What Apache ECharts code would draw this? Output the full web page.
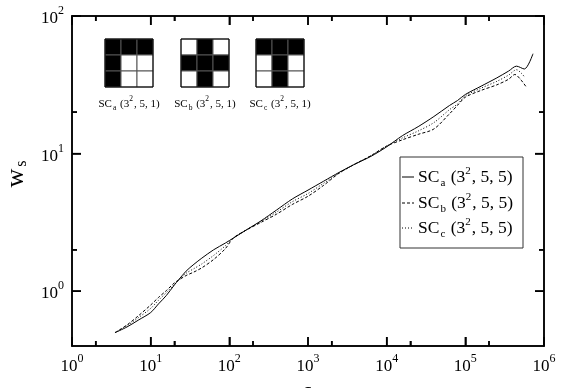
<!DOCTYPE html>
<html>
<head>
<meta charset="utf-8">
<script src="https://cdn.jsdelivr.net/npm/echarts@6/dist/echarts.min.js"></script>
</head>
<body style="margin:0;background:#fff">
<div id="chart" style="width:565px;height:388px"></div>
<script>
// Cluster size s (shared part of the sampling) and the tails of each run
const sizes = [3.52, 5.0, 7.08, 10, 12.6, 15.8, 20, 22.4, 28.2, 35.5, 44.7, 63.1, 89.1,
  112, 158, 251, 398, 631, 1000, 1585, 2512, 3981, 6310, 10000, 15850, 25120, 39810,
  63100, 79430, 100000, 158500, 251200, 354800];
const tailA = [446700, 562300, 724400];
const tailB = [426600, 501200, 602600];
const tailC = [446700, 524800, 575400];

// w_s for the three shapes
const wA = [0.50, 0.55, 0.62, 0.70, 0.81, 0.93, 1.11, 1.20, 1.40, 1.57, 1.74, 2.00, 2.24,
  2.43, 2.75, 3.24, 3.89, 4.68, 5.43, 6.31, 7.33, 8.41, 9.55, 11.2, 13.5, 15.7, 18.6,
  22.4, 24.3, 26.9, 30.9, 35.5, 39.8, 43.2, 41.2, 53.2];
const wB = [0.50, 0.569, 0.668, 0.794, 0.902, 1.01, 1.15, 1.20, 1.30, 1.38, 1.48, 1.70, 2.04,
  2.43, 2.75, 3.16, 3.63, 4.27, 4.90, 5.89, 7.24, 8.41, 9.66, 11.35, 12.6, 13.8, 15.1,
  19.5, 22.4, 25.7, 28.8, 31.6, 34.7, 37.6, 34.7, 30.2];
const wC = [0.50, 0.562, 0.646, 0.750, 0.861, 0.977, 1.12, 1.20, 1.35, 1.46, 1.58, 1.82, 2.14,
  2.43, 2.75, 3.20, 3.76, 4.47, 5.13, 6.10, 7.24, 8.41, 9.66, 11.35, 13.0, 14.6, 16.8,
  20.9, 22.9, 26.3, 29.9, 33.5, 37.2, 40.7, 38.0, 35.5];

const seriesNames = ['a', 'b', 'c'];
const legendArgs = '5, 5)';
const insetArgs = '5, 1)';

// Axis ranges and tick positions
const X_MIN = 1, X_MAX = 1000000;
const Y_MIN = 0.4, Y_MAX = 100;
const xMajor = [1, 10, 100, 1000, 10000, 100000, 1000000];
const xMinor = [2, 20, 200, 2000, 20000, 200000];
const yMajor = [1, 10, 100];
const yMinor = [2, 20];

// 3x3 shapes (1 = filled cell)
const shapes = [
  [[1, 1, 1], [1, 0, 0], [1, 0, 0]],
  [[0, 1, 0], [1, 1, 1], [0, 1, 0]],
  [[1, 1, 1], [0, 1, 0], [0, 1, 0]]
];

const FONT = '"Liberation Serif", "Times New Roman", serif';
const INK = '#000';
const MAJOR_LEN = 9, MINOR_LEN = 5;
const lineTypes = ['solid', [3, 2], [1, 2]];

function zip(xs, ys) { return xs.map((x, i) => [x, ys[i]]); }
function exponent(v) { return Math.round(Math.log10(v)); }

const powRich = {
  b: { fontFamily: FONT, fontSize: 17, color: INK, lineHeight: 22, verticalAlign: 'bottom' },
  sup: { fontFamily: FONT, fontSize: 12, color: INK, verticalAlign: 'top', lineHeight: 12 }
};

function scLabel(sub, tail) {
  return '{n|SC}{s|' + sub + '}{n| (3}{p|2}{n|, ' + tail + '}';
}
function scRich(big, small) {
  return {
    n: { fontFamily: FONT, fontSize: big, color: INK, lineHeight: big + 6, verticalAlign: 'middle' },
    s: { fontFamily: FONT, fontSize: small, color: INK, lineHeight: small, verticalAlign: 'bottom', padding: [0, 1, 0, 1] },
    p: { fontFamily: FONT, fontSize: small, color: INK, lineHeight: small, verticalAlign: 'top', padding: [0, 1, 0, 0] }
  };
}

// Frame axis: line plus inward ticks at the given values, no labels
function frameAxis(position, min, max, values, len) {
  return {
    type: 'log', logBase: 10, min: min, max: max, position: position,
    axisLine: { show: true, onZero: false, lineStyle: { color: INK, width: 1.5 } },
    axisTick: { show: true, inside: true, length: len, customValues: values, lineStyle: { color: INK, width: 1.5 } },
    axisLabel: { show: false },
    splitLine: { show: false }
  };
}

const xMain = frameAxis('bottom', X_MIN, X_MAX, xMajor, MAJOR_LEN);
xMain.axisLabel = {
  show: true, customValues: xMajor, margin: 7, interval: 0, hideOverlap: false,
  formatter: v => '{b|10}{sup|' + exponent(v) + '}', rich: powRich
};
xMain.name = 's';
xMain.nameLocation = 'middle';
xMain.nameGap = 21;
xMain.nameTextStyle = { fontFamily: FONT, fontSize: 24, color: INK };

const yMain = frameAxis('left', Y_MIN, Y_MAX, yMajor, MAJOR_LEN);
yMain.axisLabel = {
  show: true, customValues: yMajor, margin: 8, interval: 0, hideOverlap: false,
  formatter: v => '{b|10}{sup|' + exponent(v) + '}', rich: powRich
};
yMain.name = '{w|w}{s|s}';
yMain.nameLocation = 'middle';
yMain.nameGap = 31;
yMain.nameRotate = 90;
yMain.nameTextStyle = {
  padding: [0, 0, 0, 14],
  rich: {
    w: { fontFamily: FONT, fontSize: 26, color: INK, lineHeight: 28, verticalAlign: 'middle' },
    s: { fontFamily: FONT, fontSize: 16, color: INK, lineHeight: 16, verticalAlign: 'bottom', padding: [0, 0, 0, 2] }
  }
};

const curveSeries = [
  zip(sizes.concat(tailA), wA),
  zip(sizes.concat(tailB), wB),
  zip(sizes.concat(tailC), wC)
].map((data, i) => ({
  name: seriesNames[i], type: 'line', data: data, xAxisIndex: 0, yAxisIndex: 0,
  symbol: 'none', showSymbol: false, smooth: 0.3,
  lineStyle: { color: INK, width: 1, type: lineTypes[i] },
  itemStyle: { color: INK }
}));

const chart = echarts.init(document.getElementById('chart'));
chart.setOption({
  backgroundColor: '#fff',
  animation: false,
  grid: { left: 72, right: 21, top: 16, bottom: 42, containLabel: false, outerBoundsMode: 'none' },
  xAxis: [
    xMain,
    frameAxis('bottom', X_MIN, X_MAX, xMinor, MINOR_LEN),
    frameAxis('top', X_MIN, X_MAX, xMajor, MAJOR_LEN),
    frameAxis('top', X_MIN, X_MAX, xMinor, MINOR_LEN)
  ],
  yAxis: [
    yMain,
    frameAxis('left', Y_MIN, Y_MAX, yMinor, MINOR_LEN),
    frameAxis('right', Y_MIN, Y_MAX, yMajor, MAJOR_LEN),
    frameAxis('right', Y_MIN, Y_MAX, yMinor, MINOR_LEN)
  ],
  series: curveSeries
});

const elements = [];

// Tick marks again as plain lines, placed through the axis scales
const toPx = v => chart.convertToPixel({ gridIndex: 0 }, v);
function pushTick(p, dx, dy) {
  elements.push({
    type: 'line', z: 50,
    shape: { x1: p[0], y1: p[1], x2: p[0] + dx, y2: p[1] + dy },
    style: { stroke: INK, lineWidth: 1.5 }
  });
}
[[xMajor, MAJOR_LEN], [xMinor, MINOR_LEN]].forEach(pair => {
  pair[0].forEach(v => {
    pushTick(toPx([v, Y_MIN]), 0, -pair[1]);
    pushTick(toPx([v, Y_MAX]), 0, pair[1]);
  });
});
[[yMajor, MAJOR_LEN], [yMinor, MINOR_LEN]].forEach(pair => {
  pair[0].forEach(v => {
    pushTick(toPx([X_MIN, v]), pair[1], 0);
    pushTick(toPx([X_MAX, v]), -pair[1], 0);
  });
});

// Legend box
const legend = { left: 400, top: 157, width: 123, height: 91, rows: [177, 203, 228] };
elements.push({
  type: 'rect', silent: true, z: 10,
  shape: { x: legend.left, y: legend.top, width: legend.width, height: legend.height },
  style: { fill: '#fff', stroke: '#333', lineWidth: 1 }
});
legend.rows.forEach((y, i) => {
  elements.push({
    type: 'line', silent: true, z: 11,
    shape: { x1: legend.left + 2, y1: y, x2: legend.left + 14, y2: y },
    style: { stroke: INK, lineWidth: 1, lineDash: lineTypes[i] === 'solid' ? null : lineTypes[i] }
  });
  elements.push({
    type: 'text', silent: true, z: 11,
    x: legend.left + 18, y: y,
    style: {
      text: scLabel(seriesNames[i], legendArgs),
      rich: scRich(17.5, 11),
      align: 'left', verticalAlign: 'middle'
    }
  });
});

// Inset cluster shapes with their labels
const cell = 16;
const insetLeft = [105, 181, 256];
const insetTop = 39;
shapes.forEach((shape, k) => {
  shape.forEach((row, r) => {
    row.forEach((v, c) => {
      elements.push({
        type: 'rect', silent: true,
        shape: { x: insetLeft[k] + c * cell, y: insetTop + r * cell, width: cell, height: cell },
        style: { fill: v ? '#000' : '#fff', stroke: '#555', lineWidth: 1 }
      });
    });
  });
  elements.push({
    type: 'rect', silent: true,
    shape: { x: insetLeft[k], y: insetTop, width: cell * 3, height: cell * 3 },
    style: { fill: 'none', stroke: '#000', lineWidth: 1 }
  });
  elements.push({
    type: 'text', silent: true,
    x: insetLeft[k] + cell * 1.5, y: 104,
    style: {
      text: scLabel(seriesNames[k], insetArgs),
      rich: scRich(11, 7.5),
      align: 'center', verticalAlign: 'middle'
    }
  });
});

chart.setOption({ graphic: { elements: elements } });
</script>
</body>
</html>
